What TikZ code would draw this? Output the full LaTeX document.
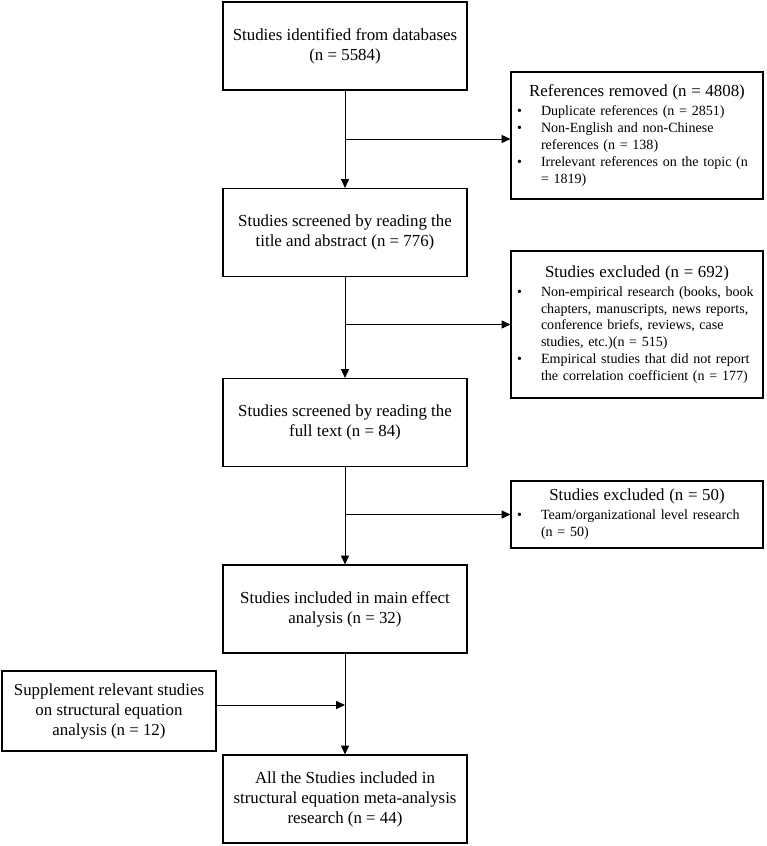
\documentclass[tikz,border=0pt]{standalone}
\usepackage{fontspec}
\setmainfont{Liberation Serif}
\usetikzlibrary{arrows.meta}
\newcommand{\hd}[1]{{\centering\fontsize{12}{14.2}\selectfont #1\par}\vskip 1.5pt}
\newcommand{\bul}[1]{\par\hangindent=0.6cm\hangafter=1\noindent\makebox[0.6cm][l]{\textbullet}#1\par}

\begin{document}
\begin{tikzpicture}[
    box/.style={draw, line width=0.8pt, minimum width=6.1cm, minimum height=2.2cm, inner sep=0pt, align=center, font=\fontsize{12}{14.2}\selectfont},
    side/.style={draw, line width=0.8pt, minimum width=6.3cm, text width=6.0cm, inner xsep=0.15cm, inner ysep=0pt, align=left, font=\fontsize{10}{12}\selectfont},
    arr/.style={-{Triangle[length=0.22cm,width=0.2cm]}, line width=0.7pt}]
  \useasboundingbox (0,0) rectangle (19.175,-21.15);
  % ------------------------------------------------------------ main column
  \node[box] (b1) at (8.625,-1.15) {Studies identified from databases\\(n = 5584)};
  \node[box] (b2) at (8.625,-5.8125) {Studies screened by reading the\\title and abstract (n = 776)};
  \node[box] (b3) at (8.625,-10.5625) {Studies screened by reading the\\full text (n = 84)};
  \node[box] (b4) at (8.625,-15.225) {Studies included in main effect\\analysis (n = 32)};
  \node[box] (b5) at (8.625,-19.975) {All the Studies included in\\structural equation meta-analysis\\research (n = 44)};
  % ------------------------------------------------------------ side boxes
  \node[side, minimum height=3.175cm] (r1) at (15.925,-3.3875) {\hd{References removed (n = 4808)}%
    \bul{Duplicate references (n = 2851)}%
    \bul{Non-English and non-Chinese\newline references (n = 138)}%
    \bul{Irrelevant references on the topic (n\newline = 1819)}};
  \node[side, minimum height=3.675cm] (e1) at (15.925,-8.1125) {\hd{Studies excluded (n = 692)}%
    \bul{Non-empirical research (books, book\newline chapters, manuscripts, news reports,\newline conference briefs, reviews, case\newline studies, etc.)(n = 515)}%
    \bul{Empirical studies that did not report\newline the correlation coefficient (n = 177)}};
  \node[side, minimum height=1.675cm] (e2) at (15.925,-12.8625) {\hd{Studies excluded (n = 50)}%
    \bul{Team/organizational level research\newline (n = 50)}};
  \node[box, minimum width=5.35cm, minimum height=2.0cm] (supp) at (2.725,-17.775) {Supplement relevant studies\\on structural equation\\analysis (n = 12)};
  % ------------------------------------------------------------ connectors
  \coordinate (j1) at (8.625,-3.475);
  \coordinate (j4) at (8.625,-17.625);
  \draw[arr] (b1) -- (b2);
  \draw[arr] (j1) -- (j1 -| r1.west);
  \draw[arr] (b2) -- (b3);
  \draw[arr] (b2.south |- e1.west) -- (e1.west);
  \draw[arr] (b3) -- (b4);
  \draw[arr] (b3.south |- e2.west) -- (e2.west);
  \draw[arr] (b4) -- (b5);
  \draw[arr] (supp.east |- j4) -- (j4);
\end{tikzpicture}
\end{document}
